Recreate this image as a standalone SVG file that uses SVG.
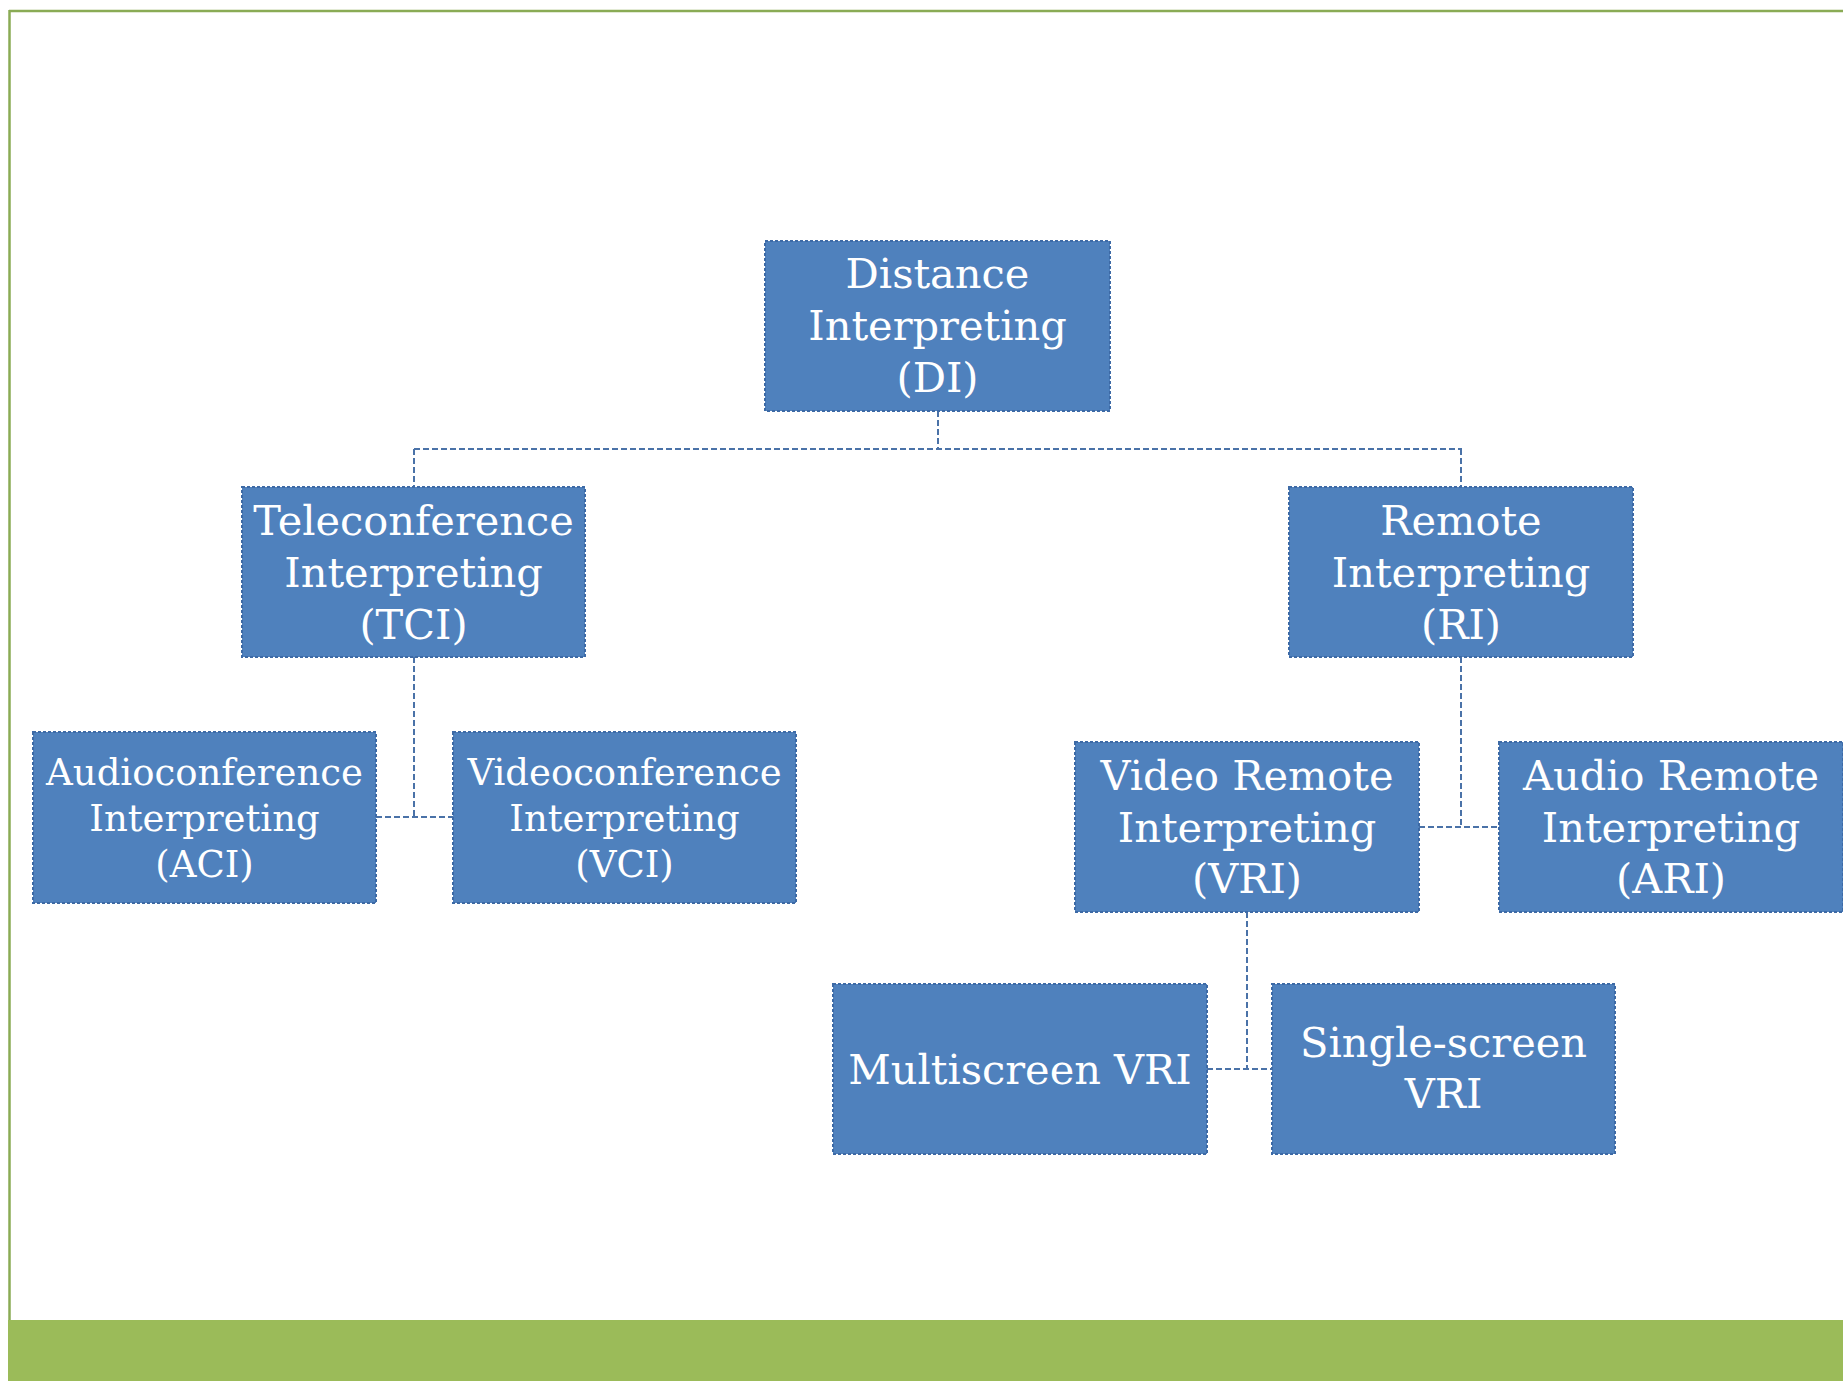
<svg xmlns="http://www.w3.org/2000/svg" width="1843" height="1381" viewBox="0 0 1843 1381">
<style>
.box{fill:#4F81BD;stroke:#3d6aa6;stroke-width:2;stroke-dasharray:3 2}
.t{font-family:"DejaVu Serif","Liberation Serif",serif;font-size:41.5px;fill:#ffffff;text-anchor:middle}
.s{font-size:37px}
.c{fill:none;stroke:#4a72a8;stroke-width:2;stroke-dasharray:6 3}
</style>
<rect width="1843" height="1381" fill="#ffffff"/>
<line x1="9" y1="11" x2="1843" y2="11" stroke="#8aab55" stroke-width="2.5"/>
<line x1="9.5" y1="10" x2="9.5" y2="1381" stroke="#8aab55" stroke-width="2.5"/>
<rect x="8" y="1320" width="1835" height="61" fill="#9BBB59"/>
<g id="connectors">
<path class="c" d="M938 411V449M414 449H1462M414 449V487M1461 449V487"/>
<path class="c" d="M414 657V817M376 817H453"/>
<path class="c" d="M1461 657V827M1419 827H1499"/>
<path class="c" d="M1247 912V1069M1207 1069H1272"/>
</g>
<g id="di"><rect class="box" x="765" y="241" width="345" height="170"/>
<text class="t" x="937.5"><tspan x="937.5" y="288">Distance</tspan><tspan x="937.5" y="340">Interpreting</tspan><tspan x="937.5" y="392">(DI)</tspan></text></g>
<g id="tci"><rect class="box" x="242" y="487" width="343" height="170"/>
<text class="t"><tspan x="413.5" y="535">Teleconference</tspan><tspan x="413.5" y="587">Interpreting</tspan><tspan x="413.5" y="639">(TCI)</tspan></text></g>
<g id="ri"><rect class="box" x="1289" y="487" width="344" height="170"/>
<text class="t"><tspan x="1461" y="535">Remote</tspan><tspan x="1461" y="587">Interpreting</tspan><tspan x="1461" y="639">(RI)</tspan></text></g>
<g id="aci"><rect class="box" x="33" y="732" width="343" height="171"/>
<text class="t s"><tspan x="204.5" y="785">Audioconference</tspan><tspan x="204.5" y="831">Interpreting</tspan><tspan x="204.5" y="877">(ACI)</tspan></text></g>
<g id="vci"><rect class="box" x="453" y="732" width="343" height="171"/>
<text class="t s"><tspan x="624.5" y="785">Videoconference</tspan><tspan x="624.5" y="831">Interpreting</tspan><tspan x="624.5" y="877">(VCI)</tspan></text></g>
<g id="vri"><rect class="box" x="1075" y="742" width="344" height="170"/>
<text class="t"><tspan x="1247" y="790">Video Remote</tspan><tspan x="1247" y="842">Interpreting</tspan><tspan x="1247" y="893">(VRI)</tspan></text></g>
<g id="ari"><rect class="box" x="1499" y="742" width="344" height="170"/>
<text class="t"><tspan x="1671" y="790">Audio Remote</tspan><tspan x="1671" y="842">Interpreting</tspan><tspan x="1671" y="893">(ARI)</tspan></text></g>
<g id="multi"><rect class="box" x="833" y="984" width="374" height="170"/>
<text class="t" x="1020" y="1084">Multiscreen VRI</text></g>
<g id="single"><rect class="box" x="1272" y="984" width="343" height="170"/>
<text class="t"><tspan x="1443.5" y="1057">Single-screen</tspan><tspan x="1443.5" y="1108">VRI</tspan></text></g>
</svg>
